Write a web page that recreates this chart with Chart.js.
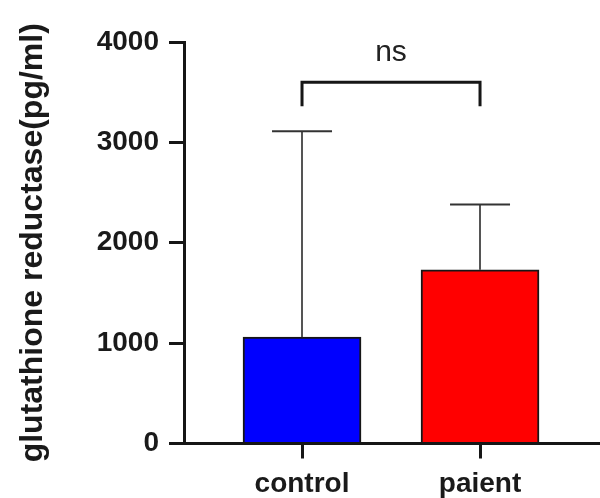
<!DOCTYPE html>
<html>
<head>
<meta charset="utf-8">
<script src="https://cdn.jsdelivr.net/npm/chart.js@4.4.1/dist/chart.umd.min.js"></script>
<style>
  html, body { margin: 0; padding: 0; background: #fff; }
  #wrap { width: 600px; height: 498px; position: relative; }
</style>
</head>
<body>
<div id="wrap"><canvas id="myChart"></canvas></div>
<script>
// groupes et valeurs
var groupes = ['control', 'paient'];
var positions = [1, 2];
var moyennes = [1060, 1730];
var hautErreur = [3110, 2380];
var couleurs = ['#0000ff', '#ff0000'];
var yTicks = [0, 1000, 2000, 3000, 4000];
var signif = { label: 'ns', y: 3600, bas: 3360 };

var ctx = document.getElementById('myChart').getContext('2d');
var encre = '#161616';

// barres d'erreur (vers le haut seulement) + crochet "ns"
var extras = {
  id: 'extras',
  afterDatasetsDraw: function (chart) {
    var c = chart.ctx, xs = chart.scales.x, ys = chart.scales.y;
    c.save();
    c.lineCap = 'butt';
    for (var i = 0; i < moyennes.length; i++) {
      var px = xs.getPixelForValue(positions[i]);
      var pTop = ys.getPixelForValue(hautErreur[i]);
      var pMean = ys.getPixelForValue(moyennes[i]);
      c.strokeStyle = '#555';
      c.lineWidth = 2;
      c.beginPath();
      c.moveTo(px, pMean);
      c.lineTo(px, pTop);
      c.stroke();
      c.strokeStyle = '#333';
      c.beginPath();
      c.moveTo(px - 30, pTop);
      c.lineTo(px + 30, pTop);
      c.stroke();
    }
    var x1 = xs.getPixelForValue(positions[0]);
    var x2 = xs.getPixelForValue(positions[1]);
    var yb = ys.getPixelForValue(signif.y);
    var yd = ys.getPixelForValue(signif.bas);
    c.strokeStyle = encre;
    c.lineWidth = 3;
    c.lineJoin = 'miter';
    c.beginPath();
    c.moveTo(x1, yd);
    c.lineTo(x1, yb);
    c.lineTo(x2, yb);
    c.lineTo(x2, yd);
    c.stroke();
    c.fillStyle = '#222';
    c.font = '30px "Liberation Sans", Arial, sans-serif';
    c.textAlign = 'center';
    c.textBaseline = 'middle';
    c.fillText(signif.label, (x1 + x2) / 2, yb - 29);
    c.restore();
  }
};

var config = {
  type: 'bar',
  data: {
    datasets: [{
      data: positions.map(function (p, i) { return { x: p, y: moyennes[i] }; }),
      backgroundColor: couleurs,
      borderColor: encre,
      borderWidth: 2,
      borderSkipped: 'bottom',
      barThickness: 118
    }]
  },
  options: {
    responsive: true,
    maintainAspectRatio: false,
    animation: false,
    layout: { padding: { top: 42, right: 0, left: 0, bottom: 0 } },
    plugins: { legend: { display: false }, tooltip: { enabled: false } },
    scales: {
      x: {
        type: 'linear',
        offset: false,
        bounds: 'data',
        min: 0.337,
        max: 2.674,
        afterBuildTicks: function (s) { s.ticks = positions.map(function (v) { return { value: v }; }); },
        afterFit: function (s) { s.height = 54.5; },
        ticks: {
          callback: function (v) { return groupes[positions.indexOf(v)]; },
          color: '#1a1a1a',
          font: { family: '"Liberation Sans", Arial, sans-serif', size: 28, weight: 'bold' },
          padding: 9,
          maxRotation: 0,
          autoSkip: false
        },
        grid: { display: true, offset: false, drawOnChartArea: false, drawTicks: true, tickLength: 15, lineWidth: 3, color: encre },
        border: { display: true, width: 3, color: encre }
      },
      y: {
        min: 0,
        max: 4000,
        afterBuildTicks: function (s) { s.ticks = yTicks.map(function (v) { return { value: v }; }); },
        afterFit: function (s) { s.width = 184; },
        ticks: {
          callback: function (v) { return String(v); },
          color: '#1a1a1a',
          font: { family: '"Liberation Sans", Arial, sans-serif', size: 28, weight: 'bold' },
          padding: 10
        },
        grid: { display: true, drawOnChartArea: false, drawTicks: true, tickLength: 15, lineWidth: 3, color: encre },
        border: { display: true, width: 3, color: encre },
        title: {
          display: true,
          text: 'glutathione reductase(pg/ml)',
          color: '#1a1a1a',
          font: { family: '"Liberation Sans", Arial, sans-serif', size: 32, weight: 'bold' },
          padding: { top: 14, bottom: 0 }
        }
      }
    }
  },
  plugins: [extras]
};

window.myChart = new Chart(ctx, config);
</script>
</body>
</html>
